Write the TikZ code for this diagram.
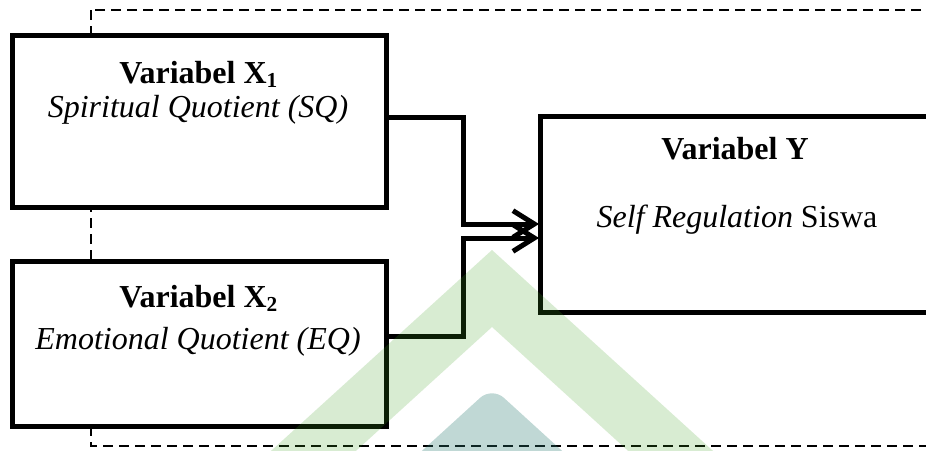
\documentclass[tikz,border=0pt]{standalone}
\usepackage{fontspec}
\setmainfont{Liberation Serif}
\usetikzlibrary{arrows.meta,fit}

\definecolor{wmgreen}{rgb}{0.24,0.62,0.12}
\definecolor{wmteal}{rgb}{0.18,0.49,0.46}

\begin{document}
\begin{tikzpicture}[
    x=0.375pt, y=-0.375pt,
    varbox/.style={rectangle, draw, fill=white, line width=1.875pt, inner sep=0pt},
    head/.style={anchor=base, inner sep=0pt, font=\fontsize{12}{14}\selectfont\bfseries},
    desc/.style={anchor=base, inner sep=0pt, font=\fontsize{12}{14}\selectfont},
    flow/.style={line width=1.875pt, -{Straight Barb[length=8pt, width=10pt]}},
    frame/.style={dash pattern=on 3.75pt off 2.25pt, line width=0.75pt}
]
\useasboundingbox (0,0) rectangle (926,450);
\clip (0,0) rectangle (926,450);

% outer dashed frame
\draw[frame] (91,10) rectangle (990,446);

% variable boxes
\node[varbox, fit={(12,35) (386,207)}] (x1) {};
\node[varbox, fit={(12,261) (386,426)}] (x2) {};
\node[varbox, fit={(540,116) (1000,312)}] (y) {};

\node[head] (x1a) at (199,83) {Variabel X\textsubscript{1}};
\node[desc] (x1b) at (198,117) {\textit{Spiritual Quotient (SQ)}};
\node[head] (x2a) at (199,307) {Variabel X\textsubscript{2}};
\node[desc] (x2b) at (198,349) {\textit{Emotional Quotient (EQ)}};
\node[head] (ya) at (735,159) {Variabel Y};
\node[desc] (yb) at (737,227) {\textit{Self Regulation} Siswa};

% connectors
\coordinate (jn1) at (463,224);
\coordinate (jn2) at (463,238);
\coordinate (in1) at (539,224);
\coordinate (in2) at (539,238);
\draw[flow] ([yshift=1.5pt]x1.east) -| (jn1) -- (in1);
\draw[flow] ([yshift=2.6pt]x2.east) -| (jn2) -- (in2);

% watermark
\fill[wmgreen, fill opacity=0.2, even odd rule]
    (492,250) -- (767,500) -- (217,500) -- cycle
    (492,327) -- (682,500) -- (302,500) -- cycle;
\fill[wmteal, fill opacity=0.3, rounded corners=6]
    (368,500) -- (492,387) -- (616,500) -- cycle;
\end{tikzpicture}
\end{document}
